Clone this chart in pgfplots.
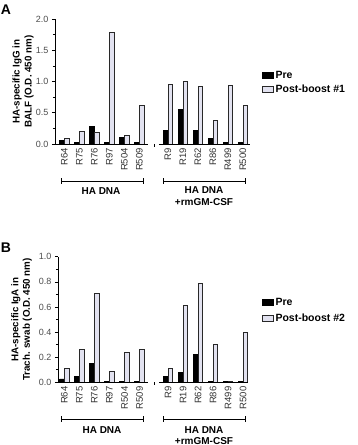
\documentclass[border=0pt]{standalone}
\usepackage{pgfplots}
\pgfplotsset{compat=1.18}
\usepackage{pgfplotstable}
\usepackage{fontspec}
\setmainfont{Liberation Sans}
\definecolor{postfill}{RGB}{226,226,240}
\definecolor{postdraw}{RGB}{40,40,40}

\pgfplotstableread{
x pre post
0 0.06 0.09
1 0.02 0.20
2 0.28 0.18
3 0.02 1.78
4 0.11 0.13
5 0.02 0.62
6.9 0.22 0.95
7.9 0.55 1.00
8.9 0.22 0.92
9.9 0.09 0.38
10.9 0.02 0.93
11.9 0.02 0.61
}\dataA

\pgfplotstableread{
x pre post
0 0.027 0.11
1 0.05 0.26
2 0.15 0.71
3 0.01 0.09
4 0.01 0.24
5 0.01 0.26
6.9 0.05 0.11
7.9 0.08 0.61
8.9 0.225 0.79
9.9 0.01 0.30
10.9 0.01 0.01
11.9 0.01 0.40
}\dataB

\pgfplotsset{
  panel/.style={
    scale only axis,
    anchor=south west,
    clip=false,
    axis y line=left,
    axis x line=bottom,
    x axis line style={draw=none},
    y axis line style={-, line width=0.7pt},
    xtick={0,1,2,3,4,5,6.9,7.9,8.9,9.9,10.9,11.9},
    xticklabels={R64,R75,R76,R97,R504,R509,R9,R19,R62,R86,R499,R500},
    xtick style={draw=none},
    xticklabel style={rotate=90, anchor=east, font=\fontsize{9.5}{10}\selectfont, color=black!80, inner sep=1pt},
    yticklabel style={font=\fontsize{9}{10}\selectfont, color=black!70, /pgf/number format/fixed, /pgf/number format/fixed zerofill, /pgf/number format/precision=1},
    /pgf/number format/assume math mode=true,
    tick align=outside,
    major tick length=3pt,
    minor tick length=2pt,
    minor y tick num=1,
    ytick style={line width=0.6pt, color=black},
    ymin=0,
    ybar,
    bar width=4.6pt,
    legend image code/.code={\draw[##1] (0pt,-3pt) rectangle (11pt,3pt);},
    legend cell align=left,
  },
  preplot/.style={fill=black, draw=black, line width=0.5pt, bar shift=-2.5pt},
  postplot/.style={fill=postfill, draw=postdraw, line width=0.8pt, bar shift=2.5pt},
}

\begin{document}
\begin{tikzpicture}
\path[use as bounding box] (0pt,0pt) rectangle (357pt,445pt);

% Panel A
\begin{axis}[panel,
  at={(55pt,301pt)},
  width=195pt, height=125pt,
  xmin=-0.63, xmax=12.37,
  ymax=2.0,
  ytick={0,0.5,1.0,1.5,2.0},
  legend style={at={(1.062,0.595)}, anchor=north west, draw=none, fill=none,
    font=\bfseries\fontsize{10.5}{11}\selectfont, row sep=2pt, inner sep=0pt,
    nodes={inner sep=1.5pt}},
]
\addplot[preplot] table[x=x, y=pre] {\dataA};
\addplot[postplot] table[x=x, y=post] {\dataA};
\legend{Pre, Post-boost \#1}
\draw[line width=0.7pt] (axis cs:-0.63,0) -- (axis cs:5.6,0);
\draw[line width=0.7pt] (axis cs:6.3,0) -- (axis cs:12.37,0);
\draw[line width=0.7pt] (axis cs:6.0,0) -- ++(0pt,-3pt);
\end{axis}

\node[font=\bfseries\fontsize{14}{14}\selectfont] at (6pt,435pt) {A};
\node[rotate=90, align=center, font=\bfseries\fontsize{9.8}{12}\selectfont] at (23pt,363.5pt) {HA-specific IgG in\\BALF (O.D. 450 nm)};
\draw[line width=0.9pt] (61pt,264pt) -- (143pt,264pt) (61pt,261pt) -- (61pt,267pt) (143pt,261pt) -- (143pt,267pt);
\draw[line width=0.9pt] (163pt,264pt) -- (245pt,264pt) (163pt,261pt) -- (163pt,267pt) (245pt,261pt) -- (245pt,267pt);
\node[font=\bfseries\fontsize{10}{12}\selectfont] at (101pt,254pt) {HA DNA};
\node[align=center, font=\bfseries\fontsize{10}{12}\selectfont] at (204pt,249pt) {HA DNA\\+rmGM-CSF};

% Panel B
\begin{axis}[panel,
  at={(58pt,62.7pt)},
  width=190pt, height=125.6pt,
  xmin=-0.43, xmax=12.23,
  ymax=1.0,
  ytick={0,0.2,0.4,0.6,0.8,1.0},
  legend style={at={(1.074,0.685)}, anchor=north west, draw=none, fill=none,
    font=\bfseries\fontsize{10.5}{11}\selectfont, row sep=4.5pt, inner sep=0pt,
    nodes={inner sep=1.5pt}},
]
\addplot[preplot] table[x=x, y=pre] {\dataB};
\addplot[postplot] table[x=x, y=post] {\dataB};
\legend{Pre, Post-boost \#2}
\draw[line width=0.7pt] (axis cs:-0.43,0) -- (axis cs:5.6,0);
\draw[line width=0.7pt] (axis cs:6.3,0) -- (axis cs:12.23,0);
\draw[line width=0.7pt] (axis cs:6.0,0) -- ++(0pt,-3pt);
\end{axis}

\node[font=\bfseries\fontsize{14}{14}\selectfont] at (6pt,197.5pt) {B};
\node[rotate=90, align=center, font=\bfseries\fontsize{9.8}{11.5}\selectfont] at (21.5pt,125.5pt) {HA-specific IgA in\\Trach. swab (O.D. 450 nm)};
\draw[line width=0.9pt] (61pt,26pt) -- (143pt,26pt) (61pt,23pt) -- (61pt,29pt) (143pt,23pt) -- (143pt,29pt);
\draw[line width=0.9pt] (163pt,26pt) -- (245pt,26pt) (163pt,23pt) -- (163pt,29pt) (245pt,23pt) -- (245pt,29pt);
\node[font=\bfseries\fontsize{10}{11}\selectfont] at (102pt,15pt) {HA DNA};
\node[align=center, font=\bfseries\fontsize{10}{11}\selectfont] at (204pt,9.5pt) {HA DNA\\+rmGM-CSF};
\end{tikzpicture}
\end{document}
